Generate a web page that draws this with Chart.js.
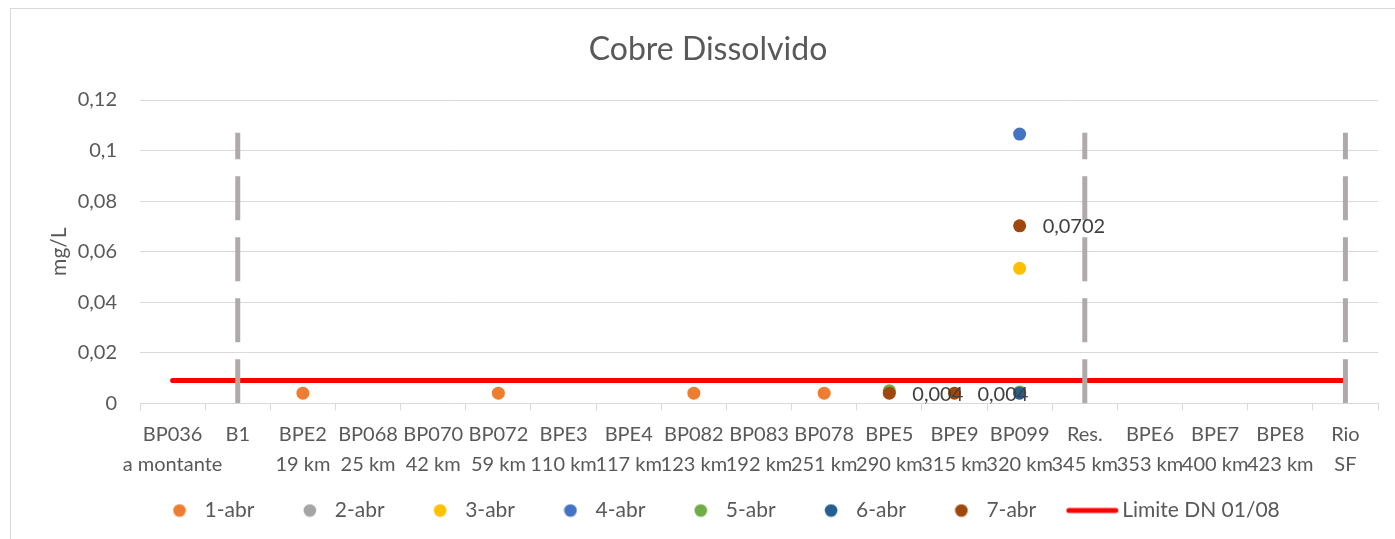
<!DOCTYPE html>
<html><head><meta charset="utf-8">
<script src="https://cdn.jsdelivr.net/npm/chart.js@4.4.1/dist/chart.umd.min.js"></script>
<style>
html,body{margin:0;padding:0;background:#fff;overflow:hidden;width:1395px;height:539px;}
#frame{position:absolute;left:10px;top:8px;width:1394px;height:600px;border:1px solid #D9D9D9;background:#fff;}
#c{display:block;}
</style></head><body>
<div id="frame"><canvas id="c" width="1394" height="541"></canvas></div>
<script>
// ---- data ----
const categories = ['BP036','B1','BPE2','BP068','BP070','BP072','BPE3','BPE4','BP082','BP083','BP078','BPE5','BPE9','BP099','Res.','BPE6','BPE7','BPE8','Rio'];
const categorySubLabels = ['a montante','','19 km','25 km','42 km','59 km','110 km','117 km','123 km','192 km','251 km','290 km','315 km','320 km','345 km','353 km','400 km','423 km','SF'];
const seriesNames = ['1-abr','2-abr','3-abr','4-abr','5-abr','6-abr','7-abr'];
const abr1 = [null,null,0.004,null,null,0.004,null,null,0.004,null,0.004,null,null,null,null,null,null,null,null];
const abr2 = [null,null,null,null,null,null,null,null,null,null,null,null,null,null,null,null,null,null,null];
const abr3 = [null,null,null,null,null,null,null,null,null,null,null,null,null,0.0534,null,null,null,null,null];
const abr4 = [null,null,null,null,null,null,null,null,null,null,null,null,null,0.1065,null,null,null,null,null];
const abr5 = [null,null,null,null,null,null,null,null,null,null,null,0.005,null,0.0045,null,null,null,null,null];
const abr6 = [null,null,null,null,null,null,null,null,null,null,null,null,null,0.004,null,null,null,null,null];
const abr7 = [null,null,null,null,null,null,null,null,null,null,null,0.004,0.004,0.0702,null,null,null,null,null];
const seriesValues = [abr1, abr2, abr3, abr4, abr5, abr6, abr7];
const seriesColors = ['#ED7D31','#A5A5A5','#FFC000','#4472C4','#70AD47','#255E91','#9E480E'];
const limitName = 'Limite DN 01/08';
const limitValue = 0.009;
const limitFrom = 'BP036', limitTo = 'Rio';
const dividerCategories = ['B1','Res.','Rio'];
const dividerTop = 0.107;
const yTickValues = [0, 0.02, 0.04, 0.06, 0.08, 0.1, 0.12];
const yTickLabels = ['0','0,02','0,04','0,06','0,08','0,1','0,12'];
const labelledSeries = '7-abr';

const FONT = 'Lato';
const TXT = '#595959';

function circleImg(color){
  const c=document.createElement('canvas'); c.width=14; c.height=14;
  const x=c.getContext('2d'); x.fillStyle=color; x.beginPath(); x.arc(7,7,6.3,0,Math.PI*2); x.fill(); return c;
}
function lineImg(color){
  const c=document.createElement('canvas'); c.width=56; c.height=8;
  const x=c.getContext('2d'); x.strokeStyle=color; x.lineWidth=5; x.lineCap='round';
  x.beginPath(); x.moveTo(5,4); x.lineTo(52,4); x.stroke(); return c;
}

const datasets = [];
seriesNames.forEach((name, i) => {
  datasets.push({
    label: name,
    data: seriesValues[i],
    showLine: false,
    backgroundColor: seriesColors[i],
    borderColor: seriesColors[i],
    pointBackgroundColor: seriesColors[i],
    pointRadius: 6.5,
    pointHoverRadius: 6.5,
    pointBorderWidth: 0,
    order: -i,
    legendImg: circleImg(seriesColors[i])
  });
});
datasets.push({
  label: limitName,
  data: [{x: limitFrom, y: limitValue}, {x: limitTo, y: limitValue}],
  borderColor: '#FF0000',
  backgroundColor: '#FF0000',
  borderWidth: 5,
  borderCapStyle: 'round',
  pointRadius: 0,
  order: -50,
  legendImg: lineImg('#FF0000')
});
dividerCategories.forEach(cat => {
  datasets.push({
    label: '',
    data: [{x: cat, y: 0}, {x: cat, y: dividerTop}],
    borderColor: '#AEAAAA',
    borderWidth: 5,
    borderDash: [44, 17],
    borderCapStyle: 'butt',
    pointRadius: 0,
    order: -100
  });
});

const legendShift = {
  id: 'legendShift',
  afterLayout(chart) {
    const lg = chart.legend;
    if (!lg) return;
    const p = lg.options.labels.padding;
    lg.left = 154 - p;
    lg.top -= 19;
    lg.bottom -= 19;
  }
};

const pointLabels = {
  id: 'pointLabels',
  afterDatasetsDraw(chart) {
    const ctx = chart.ctx;
    chart.data.datasets.forEach((ds, di) => {
      if (ds.label !== labelledSeries) return;
      const meta = chart.getDatasetMeta(di);
      meta.data.forEach((pt, i) => {
        const v = ds.data[i];
        if (v == null) return;
        ctx.save();
        ctx.font = '20px ' + FONT;
        ctx.fillStyle = '#404040';
        ctx.textAlign = 'left';
        ctx.textBaseline = 'middle';
        ctx.fillText(String(v).replace('.', ','), pt.x + 23, pt.y + 1);
        ctx.restore();
      });
    });
  }
};

function make(){
  new Chart(document.getElementById('c'), {
    type: 'line',
    data: { labels: categories, datasets },
    plugins: [legendShift, pointLabels],
    options: {
      responsive: false,
      animation: false,
      devicePixelRatio: 1,
      layout: { padding: 0 },
      events: [],
      plugins: {
        tooltip: { enabled: false },
        title: {
          display: true,
          text: 'Cobre Dissolvido',
          color: TXT,
          font: { family: FONT, size: 32, weight: 'normal', lineHeight: 1.2 },
          padding: { top: 21.3, bottom: 31.3 }
        },
        legend: {
          position: 'bottom',
          align: 'start',
          labels: {
            usePointStyle: true,
            pointStyleWidth: 29,
            boxHeight: 21,
            padding: 41,
            color: TXT,
            font: { family: FONT, size: 21 },
            generateLabels(chart) {
              const items = Chart.defaults.plugins.legend.labels.generateLabels(chart);
              return items.map(it => {
                it.pointStyle = chart.data.datasets[it.datasetIndex].legendImg;
                if (it.text === limitName) it.text = ' ' + limitName;
                return it;
              });
            },
            filter: (it) => it.text !== '',
            sort: (a, b) => a.datasetIndex - b.datasetIndex
          }
        }
      },
      scales: {
        x: {
          type: 'category',
          offset: true,
          grid: { display: true, offset: true, drawOnChartArea: false, drawTicks: true, tickLength: 7, color: '#D9D9D9' },
          border: { display: true, color: '#D9D9D9' },
          ticks: {
            autoSkip: false, maxRotation: 0, minRotation: 0, padding: 9.4,
            color: TXT,
            font: { family: FONT, size: 20, lineHeight: 1.5 },
            callback: (v, i) => [categories[i], categorySubLabels[i]]
          },
          afterFit: (s) => { s.height = 74.7; }
        },
        y: {
          position: 'left',
          min: 0, max: 0.12,
          ticks: {
            stepSize: 0.02, padding: 23, color: TXT,
            font: { family: FONT, size: 20 },
            callback: (v) => { const k = yTickValues.findIndex(t => Math.abs(t - v) < 1e-9); return k >= 0 ? yTickLabels[k] : ''; }
          },
          grid: { color: '#D9D9D9', lineWidth: 1, drawTicks: false },
          border: { display: false },
          title: { display: true, text: 'mg/L', color: TXT, font: { family: FONT, size: 21, lineHeight: 1.2 }, padding: { top: 35.4, bottom: 0 } },
          afterFit: (s) => { s.width = 129; }
        },
        yR: {
          position: 'right',
          display: true,
          grid: { display: false, drawTicks: false },
          border: { display: false },
          ticks: { display: false },
          afterFit: (s) => { s.width = 27; }
        }
      }
    }
  });
}
if (document.fonts && document.fonts.load) {
  Promise.all([document.fonts.load('20px Lato'), document.fonts.load('32px Lato')]).then(make, make);
} else make();
</script>
</body></html>
